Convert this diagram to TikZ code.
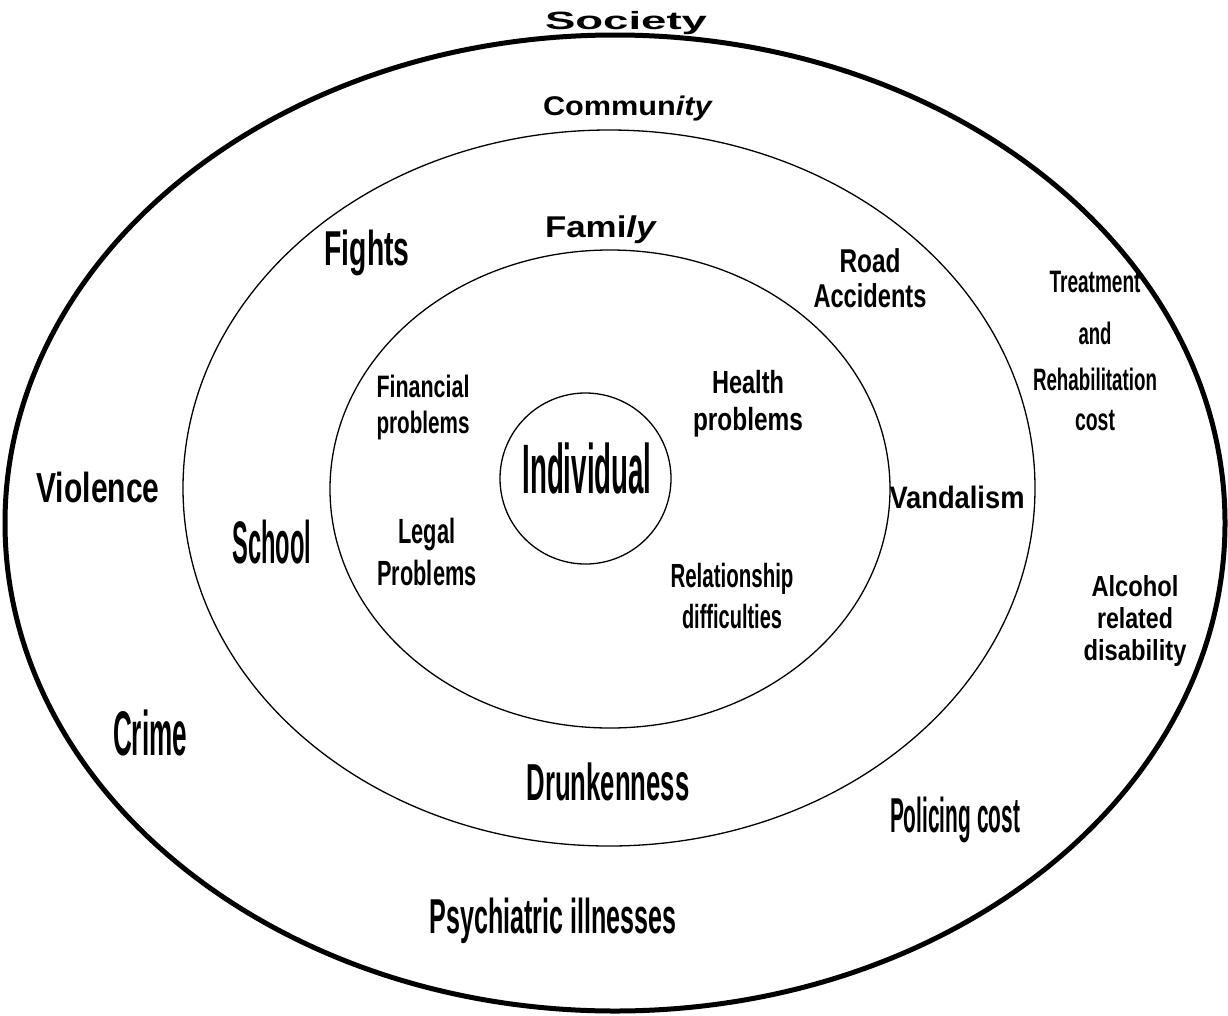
\documentclass[tikz,border=0pt]{standalone}
\usepackage{fontspec}
\setmainfont{Liberation Sans}
\usepackage{graphicx}
\usetikzlibrary{shapes.geometric}
% squeeze or stretch a word to a given width, keeping its height
\newcommand\fitw[2]{\resizebox{#1pt}{\height}{#2}}
% centred stack of lines whose baseline is that of the first line
\newcommand\lines[1]{\begin{tabular}[t]{@{}c@{}}#1\end{tabular}}

\begin{document}
\begin{tikzpicture}[x=1pt,y=-1pt,
  ring/.style={draw, ellipse, inner sep=0pt, line width=1.3pt},
  lab/.style={inner sep=0pt, anchor=base, text=black},
  bfs/.style={font=\fontsize{#1}{#1}\selectfont\bfseries}]
\useasboundingbox (0,0) rectangle (1228,1015);
\fill[white] (0,0) rectangle (1228,1015);

% nested spheres of harm
\node[ring, line width=5pt, minimum width=1220pt, minimum height=976pt] (society) at (615,523) {};
\node[ring, minimum width=852pt, minimum height=716pt] (community) at (609,488) {};
\node[ring, minimum width=560pt, minimum height=478pt] (family) at (610,489) {};
\node[ring, circle, minimum size=171pt] (individual) at (585.5,478.5) {};

% sphere titles
\node[lab, bfs=25] (tsociety) at (626,29) {\fitw{162}{Society}};
\node[lab, bfs=27] (tcommunity) at (628,115) {\fitw{170}{Commun\textit{ity}}};
\node[lab, bfs=30] (tfamily) at (601,237) {\fitw{112}{Fami\textit{ly}}};
\node[lab, bfs=70] (tindividual) at (587,493) {\fitw{129}{Individual}};

% individual and family level
\node[lab, font=\fontsize{31}{36}\selectfont\bfseries] (financial) at (423,397)
  {\lines{\fitw{93}{Financial}\\\fitw{93}{problems}}};
\node[lab, font=\fontsize{32}{37}\selectfont\bfseries] (health) at (748,393)
  {\lines{\fitw{72}{Health}\\\fitw{110}{problems}}};
\node[lab, font=\fontsize{35}{42}\selectfont\bfseries] (legal) at (427,543)
  {\lines{\fitw{57}{Legal}\\\fitw{99}{Problems}}};
\node[lab, font=\fontsize{33.5}{41}\selectfont\bfseries] (relationship) at (732,587)
  {\lines{\fitw{123}{Relationship}\\\fitw{100}{difficulties}}};

% community level
\node[lab, bfs=49] (fights) at (367,265) {\fitw{85}{Fights}};
\node[lab, font=\fontsize{33}{35}\selectfont\bfseries] (road) at (870,272)
  {\lines{\fitw{61}{Road}\\\fitw{113}{Accidents}}};
\node[lab, bfs=60] (school) at (272,563) {\fitw{79}{School}};
\node[lab, bfs=31] (vandalism) at (957,508) {\fitw{135}{Vandalism}};
\node[lab, bfs=52] (drunkenness) at (608,800) {\fitw{163}{Drunkenness}};

% society level
\node[lab, bfs=42] (violence) at (98,502) {\fitw{123}{Violence}};
\node[lab, bfs=63] (crime) at (150,755) {\fitw{74}{Crime}};
\node[lab, bfs=49] (psychiatric) at (553,933) {\fitw{247}{Psychiatric illnesses}};
\node[lab, bfs=49] (policing) at (955,832) {\fitw{130}{Policing cost}};
\node[lab, font=\fontsize{31}{40}\selectfont\bfseries] (treatment) at (1095,292)
  {\lines{\fitw{91}{Treatment}\\[12pt]\fitw{33}{and}\\[6pt]\fitw{124}{Rehabilitation}\\\fitw{40}{cost}}};
\node[lab, font=\fontsize{29}{32}\selectfont\bfseries] (alcohol) at (1135,596)
  {\lines{\fitw{87}{Alcohol}\\\fitw{76}{related}\\\fitw{103}{disability}}};
\end{tikzpicture}
\end{document}
